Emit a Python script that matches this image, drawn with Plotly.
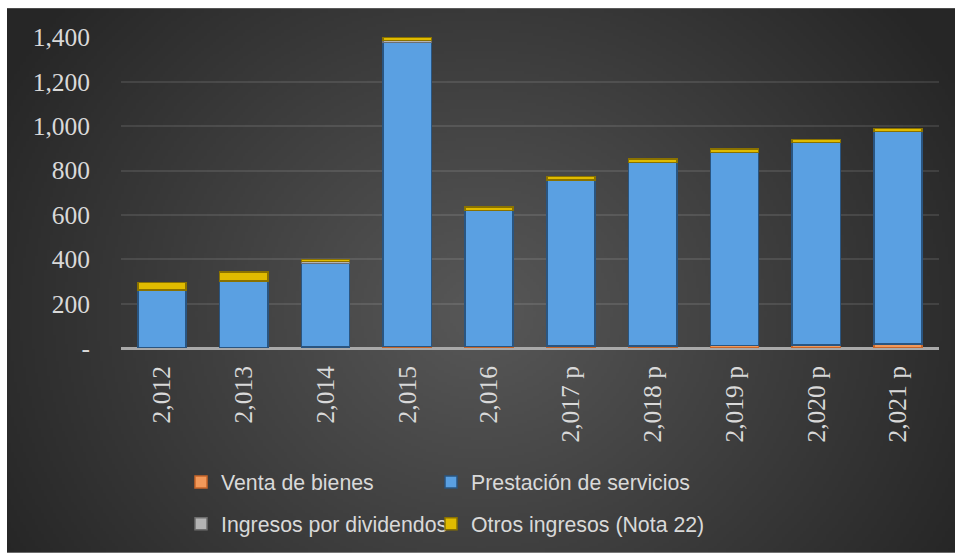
import base64
import struct
import zlib

import numpy as np
import plotly.graph_objects as go

# ---- data -------------------------------------------------------------
years = ["2,012", "2,013", "2,014", "2,015", "2,016",
         "2,017 p", "2,018 p", "2,019 p", "2,020 p", "2,021 p"]
venta_bienes = [0, 0, 4, 6, 7, 8, 10, 12, 14, 17]
prestacion_servicios = [261, 301, 377, 1371, 613, 750, 826, 869, 912, 958]
ingresos_dividendos = [0, 0, 10, 10, 0, 0, 0, 0, 0, 0]
otros_ingresos = [35, 42, 9, 12, 16, 16, 15, 15, 15, 15]

y_tickvals = [0, 200, 400, 600, 800, 1000, 1200, 1400]
y_ticktext = ["-", "200", "400", "600", "800", "1,000", "1,200", "1,400"]

# ---- geometry ---------------------------------------------------------
W, H = 955, 556
M_L, M_R, M_T, M_B = 121, 16, 37, 206
PW, PH = W - M_L - M_R, H - M_T - M_B
BG_X0, BG_Y0 = 7, 8  # dark panel starts here (white edge above/left)


def radial_png(w, h):
    """Small PNG with a soft radial grey gradient, returned as data URI."""
    yy, xx = np.mgrid[0:h, 0:w]
    u = (xx + 0.5) / w
    v = (yy + 0.5) / h
    t = np.sqrt(((u - 0.5) / 0.58) ** 2 + ((v - 0.56) / 0.9) ** 2)
    t = np.clip(t, 0, 1)
    c0, c1 = 88.0, 38.0
    g = (c0 + (c1 - c0) * t).astype(np.uint8)
    rgb = np.stack([g, g, g], axis=-1)
    raw = b"".join(b"\x00" + rgb[r].tobytes() for r in range(h))

    def chunk(tag, data):
        body = tag + data
        return struct.pack(">I", len(data)) + body + struct.pack(">I", zlib.crc32(body) & 0xFFFFFFFF)

    png = (b"\x89PNG\r\n\x1a\n"
           + chunk(b"IHDR", struct.pack(">IIBBBBB", w, h, 8, 2, 0, 0, 0))
           + chunk(b"IDAT", zlib.compress(raw, 9))
           + chunk(b"IEND", b""))
    return "data:image/png;base64," + base64.b64encode(png).decode()


bg_uri = radial_png(320, 186)


def py_to_paper(py):
    return (H - M_B - py) / PH


def px_to_paper(px):
    return (px - M_L) / PW


# name, values, fill, edge, legend id, legend position (px)
series = [
    ("Venta de bienes", venta_bienes, "#f2995a", "#c8662a", "legend", (181, 485)),
    ("Prestación de servicios", prestacion_servicios, "#5aa0e2", "#2a5580", "legend2", (431, 485)),
    ("Ingresos por dividendos", ingresos_dividendos, "#b4b4b4", "#6e6e6e", "legend3", (181, 527)),
    ("Otros ingresos (Nota 22)", otros_ingresos, "#e0bb00", "#8a7200", "legend4", (431, 527)),
]

legend_font = dict(family="Liberation Sans, Arial, sans-serif", size=21.3, color="#d9d9d9")
tick_font = dict(family="Liberation Serif, Times New Roman, serif", size=25.5, color="#d9d9d9")

fig = go.Figure()
legends = {}
for name, vals, fill, edge, leg, (lx, ly) in series:
    fig.add_trace(go.Bar(
        x=years, y=vals, name=name,
        marker=dict(color=fill, line=dict(color=edge, width=1.5)),
        legend=leg,
    ))
    legends[leg] = dict(
        x=px_to_paper(lx), y=py_to_paper(ly),
        xanchor="left", yanchor="middle",
        orientation="h", font=legend_font, bgcolor="rgba(0,0,0,0)",
        itemwidth=30,
    )

fig.update_layout(
    width=W, height=H,
    margin=dict(l=M_L, r=M_R, t=M_T, b=M_B, pad=0),
    paper_bgcolor="white",
    plot_bgcolor="rgba(0,0,0,0)",
    barmode="stack",
    bargap=0.41,
    showlegend=True,
    images=[dict(
        source=bg_uri, xref="paper", yref="paper",
        x=px_to_paper(BG_X0), y=py_to_paper(BG_Y0),
        sizex=(W - BG_X0) / PW, sizey=(H - BG_Y0) / PH,
        xanchor="left", yanchor="top", sizing="stretch", layer="below",
    )],
    xaxis=dict(
        type="category",
        tickangle=-90,
        tickfont=tick_font,
        showgrid=False, showline=False, ticks="",
        ticklabelstandoff=12,
    ),
    yaxis=dict(
        range=[0, 1402],
        tickvals=y_tickvals, ticktext=y_ticktext,
        tickfont=tick_font,
        showgrid=True, gridcolor="rgba(255,255,255,0.10)", gridwidth=1.5,
        zeroline=True, zerolinecolor="#a9a9a9", zerolinewidth=2.5,
        showline=False, ticks="",
        ticklabelstandoff=30,
    ),
    **legends,
)

fig.write_html("out.html")
